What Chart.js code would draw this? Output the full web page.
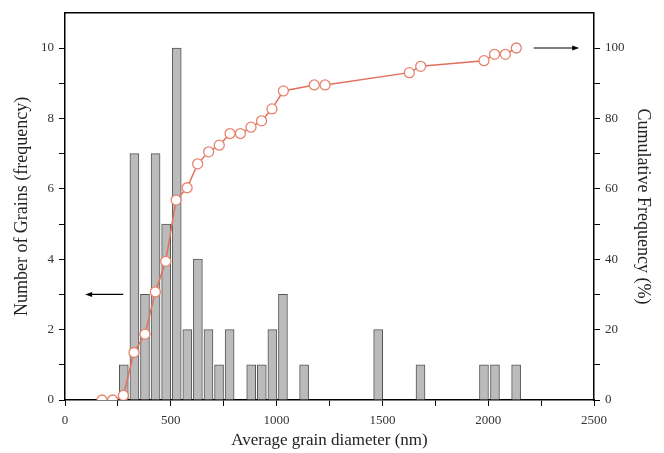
<!DOCTYPE html>
<html>
<head>
<meta charset="utf-8">
<script src="https://cdn.jsdelivr.net/npm/chart.js@4.4.1/dist/chart.umd.min.js"></script>
<style>
  body { margin: 0; background: #fff; }
</style>
</head>
<body>
<canvas id="grainChart" width="664" height="453"></canvas>
<script>
// Histogram bins (nm) and counts
const binCenters = [278, 328, 378, 428, 478, 528, 578, 628, 678, 728, 778, 880, 930, 980, 1030, 1130, 1480, 1680, 1980, 2032, 2132];
const binCounts = [1, 7, 3, 7, 5, 10, 2, 4, 2, 1, 2, 1, 1, 2, 3, 1, 2, 1, 1, 1, 1];

// Cumulative frequency points
const cumDiameters = [175, 225, 276, 326, 378, 427, 476, 525, 577, 627, 679, 729, 780, 829, 879, 929, 978, 1032, 1178, 1229, 1627, 1681, 1980, 2030, 2081, 2133];
const cumPercent = [0, 0, 1.3, 13.5, 18.7, 30.7, 39.4, 56.8, 60.3, 67.1, 70.5, 72.4, 75.7, 75.7, 77.5, 79.3, 82.7, 87.8, 89.5, 89.5, 93.0, 94.8, 96.4, 98.2, 98.2, 100];

// Arrow annotations
const arrows = [
  { from: 275, to: 95, y: 3, axis: "y" },
  { from: 2215, to: 2430, y: 100, axis: "y2" }
];

const FONT = "'Liberation Serif', 'Times New Roman', serif";

const framePlugin = {
  id: "frame",
  afterDraw(chart) {
    const { ctx, chartArea, scales } = chart;
    ctx.save();
    ctx.strokeStyle = "#000";
    ctx.lineWidth = 1.5;
    ctx.beginPath();
    ctx.moveTo(chartArea.left, chartArea.top);
    ctx.lineTo(chartArea.right, chartArea.top);
    ctx.stroke();

    // arrows
    ctx.lineWidth = 1.2;
    ctx.fillStyle = "#000";
    arrows.forEach(a => {
      const x1 = scales.x.getPixelForValue(a.from);
      const x2 = scales.x.getPixelForValue(a.to);
      const y = scales[a.axis].getPixelForValue(a.y);
      const dir = Math.sign(x2 - x1);
      ctx.beginPath();
      ctx.moveTo(x1, y);
      ctx.lineTo(x2 - dir * 5, y);
      ctx.stroke();
      ctx.beginPath();
      ctx.moveTo(x2, y);
      ctx.lineTo(x2 - dir * 7, y - 2.5);
      ctx.lineTo(x2 - dir * 7, y + 2.5);
      ctx.closePath();
      ctx.fill();
    });
    ctx.restore();
  }
};

new Chart(document.getElementById("grainChart"), {
  type: "bar",
  data: {
    datasets: [
      {
        type: "line",
        label: "Cumulative Frequency",
        data: cumDiameters.map((d, i) => ({ x: d, y: cumPercent[i] })),
        yAxisID: "y2",
        borderColor: "#e2705c",
        borderWidth: 1.5,
        pointRadius: 5,
        pointBorderColor: "#e8846e",
        pointBackgroundColor: "#fff",
        pointBorderWidth: 1.3,
        tension: 0,
        order: 0
      },
      {
        type: "bar",
        label: "Number of Grains",
        data: binCenters.map((c, i) => ({ x: c, y: binCounts[i] })),
        yAxisID: "y",
        backgroundColor: "#bbbbbb",
        borderColor: "#555",
        borderWidth: 1,
        barThickness: 9,
        order: 1
      }
    ]
  },
  options: {
    responsive: false,
    animation: false,
    layout: { padding: { top: 10, left: 0, right: 0, bottom: 0 } },
    plugins: {
      legend: { display: false },
      tooltip: { enabled: false }
    },
    scales: {
      x: {
        type: "linear",
        min: 0,
        max: 2500,
        offset: false,
        afterFit: s => { s.height = 53; },
        border: { color: "#000", width: 1.5 },
        grid: { offset: false, drawOnChartArea: false, color: "#000", tickLength: 6 },
        ticks: {
          stepSize: 250,
          maxRotation: 0,
          autoSkip: false,
          padding: 7,
          color: "#333",
          font: { family: FONT, size: 13 },
          callback: v => (v % 500 === 0 ? v : "")
        },
        title: {
          display: true,
          text: "Average grain diameter (nm)",
          color: "#222",
          padding: { top: 0, bottom: 2 },
          font: { family: FONT, size: 17 }
        }
      },
      y: {
        position: "left",
        min: 0,
        max: 11,
        afterFit: s => { s.width = 65; },
        afterBuildTicks: s => { s.ticks = s.ticks.filter(t => t.value <= 10); },
        border: { color: "#000", width: 1.5 },
        grid: { drawOnChartArea: false, color: "#000", tickLength: 6 },
        ticks: {
          stepSize: 1,
          autoSkip: false,
          padding: 5,
          color: "#333",
          font: { family: FONT, size: 13 },
          callback: v => (v % 2 === 0 ? v : "")
        },
        title: {
          display: true,
          text: "Number of Grains (frequency)",
          color: "#222",
          padding: { top: 11, bottom: 0 },
          font: { family: FONT, size: 18 }
        }
      },
      y2: {
        position: "right",
        min: 0,
        max: 110,
        afterFit: s => { s.width = 70; },
        afterBuildTicks: s => { s.ticks = s.ticks.filter(t => t.value <= 100); },
        border: { color: "#000", width: 1.5 },
        grid: { drawOnChartArea: false, color: "#000", tickLength: 6 },
        ticks: {
          stepSize: 10,
          autoSkip: false,
          padding: 5,
          color: "#333",
          font: { family: FONT, size: 13 },
          callback: v => (v % 20 === 0 ? v : "")
        },
        title: {
          display: true,
          text: "Cumulative Frequency (%)",
          color: "#222",
          padding: { top: 10, bottom: 0 },
          font: { family: FONT, size: 18 }
        }
      }
    }
  },
  plugins: [framePlugin]
});
</script>
</body>
</html>
